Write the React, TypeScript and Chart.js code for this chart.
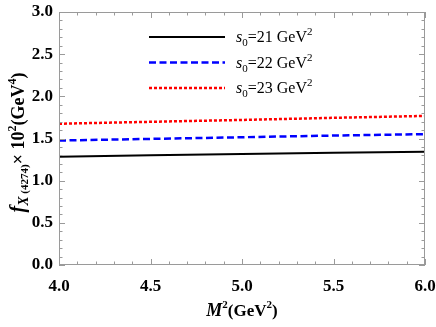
import React, { useEffect, useRef } from "react";
import { Chart, registerables } from "chart.js";
Chart.register(...registerables);

const massSq = [4.0, 4.5, 5.0, 5.5, 6.0];
const fS21 = [1.285, 1.30, 1.315, 1.33, 1.343];
const fS22 = [1.476, 1.495, 1.515, 1.535, 1.552];
const fS23 = [1.675, 1.698, 1.72, 1.745, 1.768];
const seriesLabels = ["21", "22", "23"];
const xTicks = [4.0, 4.5, 5.0, 5.5, 6.0];
const yTicks = [0.0, 0.5, 1.0, 1.5, 2.0, 2.5, 3.0];

const SERIF = '"Liberation Serif", "Times New Roman", serif';

type Seg = { t: string; font: string; dy: number };

function segWidth(ctx: CanvasRenderingContext2D, segs: Seg[]) {
  let w = 0;
  for (const s of segs) {
    ctx.font = s.font;
    w += ctx.measureText(s.t).width;
  }
  return w;
}
function drawSegs(ctx: CanvasRenderingContext2D, segs: Seg[], x: number, y: number) {
  let cx = x;
  for (const s of segs) {
    ctx.font = s.font;
    ctx.fillText(s.t, cx, y + s.dy);
    cx += ctx.measureText(s.t).width;
  }
}

const decorPlugin = {
  id: "decor",
  afterDraw(chart: any) {
    const ctx: CanvasRenderingContext2D = chart.ctx;
    const { left, right, top, bottom } = chart.chartArea;
    const xs = chart.scales.x;
    const ys = chart.scales.y;
    ctx.save();
    // frame
    ctx.strokeStyle = "#9a9a9a";
    ctx.lineWidth = 1;
    ctx.strokeRect(left + 0.5, top + 0.5, right - left - 1, bottom - top - 1);
    // ticks
    const major = 6;
    const minor = 3.5;
    ctx.beginPath();
    for (let i = 0; i <= 20; i++) {
      const v = 4 + i * 0.1;
      const px = Math.round(xs.getPixelForValue(v)) + 0.5;
      const len = i % 5 === 0 ? major : minor;
      ctx.moveTo(px, bottom);
      ctx.lineTo(px, bottom - len);
      ctx.moveTo(px, top);
      ctx.lineTo(px, top + len);
    }
    for (let i = 0; i <= 30; i++) {
      const v = i * 0.1;
      const py = Math.round(ys.getPixelForValue(v)) + 0.5;
      const len = i % 5 === 0 ? major : minor;
      ctx.moveTo(left, py);
      ctx.lineTo(left + len, py);
      ctx.moveTo(right, py);
      ctx.lineTo(right - len, py);
    }
    ctx.stroke();

    ctx.fillStyle = "#000";
    ctx.textBaseline = "alphabetic";
    ctx.textAlign = "left";
    // x title
    const xt: Seg[] = [
      { t: "M", font: `italic bold 18px ${SERIF}`, dy: 0 },
      { t: "2", font: `bold 11px ${SERIF}`, dy: -8 },
      { t: "(GeV", font: `bold 17px ${SERIF}`, dy: 0 },
      { t: "2", font: `bold 11px ${SERIF}`, dy: -8 },
      { t: ")", font: `bold 17px ${SERIF}`, dy: 0 },
    ];
    const xw = segWidth(ctx, xt);
    drawSegs(ctx, xt, (left + right) / 2 - xw / 2, 316);

    // y title
    const yt: Seg[] = [
      { t: "f", font: `italic bold 20px ${SERIF}`, dy: 0 },
      { t: "X", font: `italic bold 14px ${SERIF}`, dy: 4 },
      { t: " (4274)", font: `bold 11px ${SERIF}`, dy: 4 },
      { t: "\u00d7 ", font: `bold 18px ${SERIF}`, dy: 0 },
      { t: "10", font: `bold 18px ${SERIF}`, dy: 0 },
      { t: "2", font: `bold 12px ${SERIF}`, dy: -8 },
      { t: "(GeV", font: `bold 18px ${SERIF}`, dy: 0 },
      { t: "4", font: `bold 12px ${SERIF}`, dy: -8 },
      { t: ")", font: `bold 18px ${SERIF}`, dy: 0 },
    ];
    const yw = segWidth(ctx, yt);
    ctx.save();
    ctx.translate(24, (top + bottom) / 2 + 4);
    ctx.rotate(-Math.PI / 2);
    drawSegs(ctx, yt, -yw / 2, 0);
    ctx.restore();

    // legend
    const ds = chart.data.datasets;
    const ly = [37, 62.5, 88];
    for (let i = 0; i < ds.length; i++) {
      const d = ds[i];
      ctx.save();
      ctx.strokeStyle = d.borderColor;
      ctx.lineWidth = d.borderWidth;
      ctx.setLineDash(d.borderDash || []);
      ctx.beginPath();
      ctx.moveTo(149, ly[i]);
      ctx.lineTo(225, ly[i]);
      ctx.stroke();
      ctx.restore();
      const segs: Seg[] = [
        { t: "s", font: `italic 16px ${SERIF}`, dy: 0 },
        { t: "0", font: `11px ${SERIF}`, dy: 4 },
        { t: `=${seriesLabels[i]} GeV`, font: `16px ${SERIF}`, dy: 0 },
        { t: "2", font: `11px ${SERIF}`, dy: -7 },
      ];
      drawSegs(ctx, segs, 236, ly[i] + 5);
    }
    ctx.restore();
  },
};

export default function App() {
  const ref = useRef<HTMLCanvasElement>(null);
  useEffect(() => {
    if (!ref.current) return;
    const mk = (vals: number[]) => massSq.map((x, i) => ({ x, y: vals[i] }));
    const chart = new Chart(ref.current, {
      type: "line",
      data: {
        datasets: [
          { label: "s0=21", data: mk(fS21), borderColor: "#000000", borderWidth: 2, pointRadius: 0, borderDash: [] },
          { label: "s0=22", data: mk(fS22), borderColor: "#0000ff", borderWidth: 2.5, pointRadius: 0, borderDash: [7, 3.5] },
          { label: "s0=23", data: mk(fS23), borderColor: "#ff0000", borderWidth: 2.5, pointRadius: 0, borderDash: [3, 2] },
        ],
      },
      options: {
        responsive: false,
        animation: false,
        layout: { padding: { left: 0, top: 12, right: 11, bottom: 0 } },
        plugins: { legend: { display: false }, tooltip: { enabled: false } },
        scales: {
          x: {
            type: "linear",
            min: 4,
            max: 6,
            afterBuildTicks: (s: any) => { s.ticks = xTicks.map((v) => ({ value: v })); },
            afterFit: (s: any) => { s.height = 62; s.paddingLeft = 0; s.paddingRight = 0; },
            grid: { display: false, drawTicks: false },
            border: { display: false },
            ticks: {
              padding: 11,
              color: "#000",
              font: { family: SERIF, size: 17, weight: "bold" },
              callback: (v: any) => Number(v).toFixed(1),
              maxRotation: 0,
            },
          },
          y: {
            type: "linear",
            min: 0,
            max: 3,
            afterBuildTicks: (s: any) => { s.ticks = yTicks.map((v) => ({ value: v })); },
            afterFit: (s: any) => { s.width = 59; s.paddingTop = 0; s.paddingBottom = 0; },
            grid: { display: false, drawTicks: false },
            border: { display: false },
            ticks: {
              padding: 6,
              color: "#000",
              font: { family: SERIF, size: 17, weight: "bold" },
              callback: (v: any) => Number(v).toFixed(1),
            },
          },
        },
      },
      plugins: [decorPlugin],
    } as any);
    return () => chart.destroy();
  }, []);
  return (
    <div style={{ position: "absolute", left: 0, top: 0, width: 436, height: 327, background: "#fff" }}>
      <canvas ref={ref} width={436} height={327} style={{ display: "block" }} />
    </div>
  );
}
